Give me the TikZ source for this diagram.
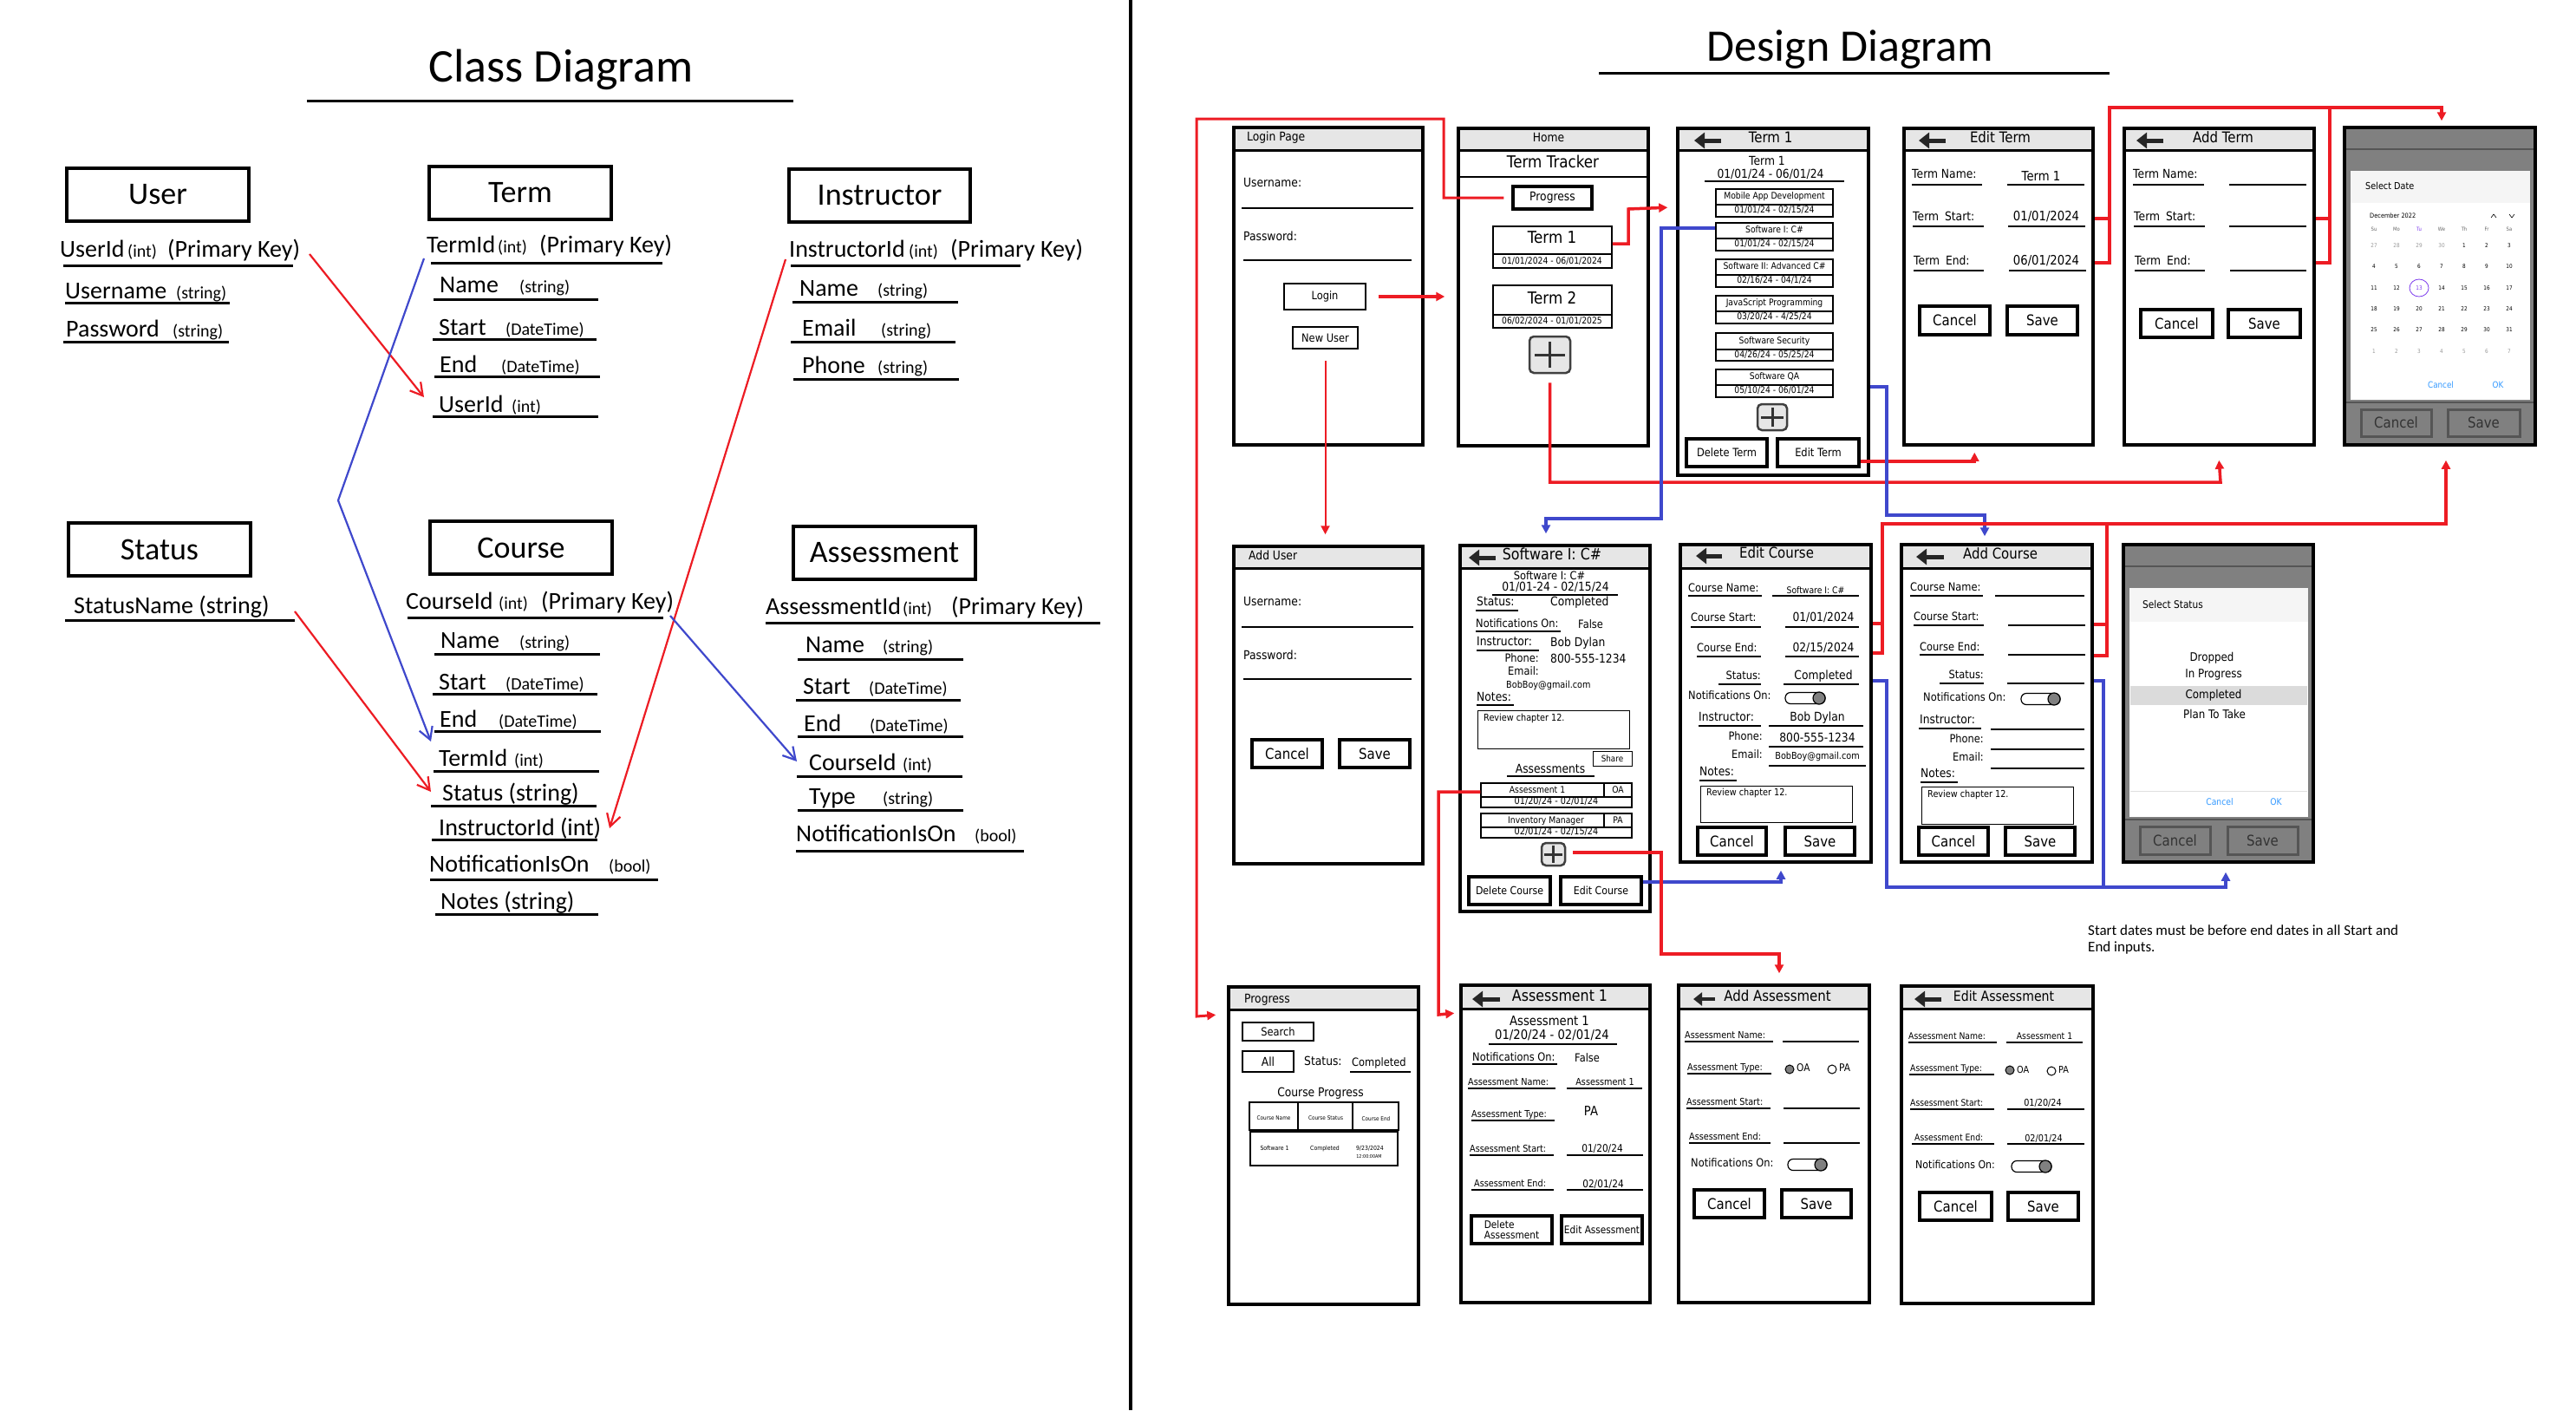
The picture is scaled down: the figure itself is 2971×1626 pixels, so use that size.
\documentclass[tikz,border=0pt]{standalone}
\usepackage{fontspec}
\setmainfont{DejaVu Sans}
\newfontfamily\dsf[FakeStretch=0.88]{DejaVu Sans}
\newfontfamily\clf{Carlito}
\usetikzlibrary{arrows.meta,fit,calc}
\definecolor{rr}{RGB}{237,28,36}
\definecolor{bb}{RGB}{63,72,204}
\definecolor{hg}{RGB}{230,230,230}
\definecolor{sg}{RGB}{128,128,128}
\definecolor{dg}{RGB}{85,85,85}
\definecolor{pu}{RGB}{124,58,237}
\definecolor{lb}{RGB}{51,153,255}
\newcounter{nn}
\tikzset{
 cl/.style={font=\clf\fontsize{#1}{#1}\selectfont, inner sep=0pt},
 ds/.style={font=\dsf\fontsize{#1}{#1}\selectfont, inner sep=0pt},
 tW/.style={anchor=mid west}, tC/.style={anchor=mid}, tE/.style={anchor=mid east}, tB/.style={anchor=base west},
 ulw/.style={line width=1.2pt},
 rc/.style={draw=rr, line width=3.5pt},
 bc/.style={draw=bb, line width=3.5pt},
 tip/.style={-{Triangle[length=10pt,width=10pt]}},
 ctip/.style={-{Straight Barb[length=14pt,width=16pt]}},
 cbtn/.style={ds=17, line width=3.5pt},
 gbtn/.style={ds=17, line width=3pt, fill=sg, draw=dg, text=black!80},
}
\newcommand\Txt[4][]{\stepcounter{nn}\node[#1] (n\arabic{nn}) at (#2,#3) {#4};}
\newcommand\Ul[3]{\draw[ulw] (#1,#3) -- (#2,#3);}
\newcommand\Btn[7][]{\node[fit={(#3,#4) (#5,#6)}, inner sep=0pt, draw, #1] (#2) {};\stepcounter{nn}\node[#1, draw=none, fill=none, anchor=center] (n\arabic{nn}) at (#2.center) {#7};}
\newcommand\Scr[6]{\fill[hg] (#2,#3) rectangle (#4,#6);\draw[line width=3pt] (#2,#6) -- (#4,#6);\node[fit={(#2,#3) (#4,#5)}, inner sep=0pt, draw, line width=3.5pt] (#1) {};}
\newcommand\Gscr[5]{\node[fit={(#2,#3) (#4,#5)}, inner sep=0pt, draw, line width=3.5pt, fill=sg] (#1) {};}
\newcommand\Bk[3]{\draw[line width=5pt, black!85, -{Triangle[length=12pt,width=18pt]}] (#2,#3) -- (#1,#3);}
\newcommand\PlusB[6]{\node[fit={(#2,#3) (#4,#5)}, inner sep=0pt, draw=black!75, fill=hg, line width=2.5pt, rounded corners=5pt] (#1) {};
 \draw[line width=3pt, black!80] ([xshift=#6]#1.west) -- ([xshift=-#6]#1.east) ([yshift=-#6]#1.north) -- ([yshift=#6]#1.south);}
\newcommand\Tog[3]{\draw[line width=1.2pt, fill=white, rounded corners=6pt] (#1,#3-6.5) rectangle (#2,#3+6.5); \draw[line width=1.2pt, fill=black!50] (#2-7,#3) circle[radius=7pt];}
\newcommand\CBox[8]{\node[fit={(#2,#3) (#4,#5)}, inner sep=0pt, draw, line width=2pt] (#1) {};\draw[line width=1.5pt] (#2,#6) -- (#4,#6);
 \stepcounter{nn}\node[ds=10.5,tC] (n\arabic{nn}) at ($(#2,#3)!0.5!(#4,#6)$) {#7};
 \stepcounter{nn}\node[ds=10.5,tC] (n\arabic{nn}) at ($(#2,#6)!0.5!(#4,#5)$) {#8};}
\newcommand\Attr[9]{\node[cl=28,tB] (#1) at (#2,#3) {#4};\stepcounter{nn}\node[cl=20,tB] (n\arabic{nn}) at (#5,#3) {#6};\draw[line width=3pt] (#7,#9) -- (#8,#9);}
\newcommand\AttrPK[9]{\node[cl=28,tB] (#1) at (#2,#3) {#4};\stepcounter{nn}\node[cl=20,tB] (n\arabic{nn}) at (#5,#3) {(int)};\node[cl=28,tB] (#1K) at (#6,#3) {(Primary Key)};\draw[line width=3pt] (#7,#9) -- (#8,#9);}
\begin{document}
\begin{tikzpicture}[x=1pt,y=-1pt]
\useasboundingbox (0,0) rectangle (2971,1626);
\fill[white] (0,0) rectangle (2971,1626);
\draw[line width=4pt] (1304,0) -- (1304,1626);
% ================= CLASS DIAGRAM =================
\node[cl=54,anchor=base] (ctitle) at (647,94) {Class Diagram};
\draw[line width=3pt] (354,116) -- (915,116);
\Btn[cl=36,line width=3.5pt]{cUser}{77}{194}{287}{255}{User}
\Btn[cl=36,line width=3.5pt]{cTerm}{495}{192}{705}{253}{Term}
\Btn[cl=36,line width=3.5pt]{cInstr}{910}{195}{1119}{256}{Instructor}
\Btn[cl=36,line width=3.5pt]{cStatus}{79}{603}{289}{664}{Status}
\Btn[cl=36,line width=3.5pt]{cCourse}{496}{601}{706}{662}{Course}
\Btn[cl=36,line width=3.5pt]{cAssess}{915}{607}{1125}{668}{Assessment}
% User
\AttrPK{uId}{69}{296}{UserId}{147}{193}{73}{338}{306}
\Attr{uUn}{75}{344}{Username}{203}{(string)}{75}{265}{349}
\Attr{uPw}{76}{388}{Password}{199}{(string)}{73}{264}{394}
% Term
\AttrPK{tId}{492}{291}{TermId}{574}{622}{497}{764}{303}
\Attr{tNm}{507}{337}{Name}{599}{(string)}{500}{690}{345}
\Attr{tSt}{506}{386}{Start}{583}{(DateTime)}{499}{688}{391}
\Attr{tEn}{507}{429}{End}{578}{(DateTime)}{501}{692}{434}
\Attr{tUid}{506}{475}{UserId}{590}{(int)}{499}{690}{480}
% Instructor
\AttrPK{iId}{910}{296}{InstructorId}{1048}{1096}{912}{1177}{306}
\Attr{iNm}{922}{341}{Name}{1012}{(string)}{914}{1105}{348}
\Attr{iEm}{925}{387}{Email}{1016}{(string)}{912}{1102}{394}
\Attr{iPh}{925}{430}{Phone}{1012}{(string)}{915}{1106}{437}
% Status
\node[cl=28,tB] (sName) at (85,707) {StatusName (string)};
\draw[line width=3pt] (75,715) -- (340,715);
% Course
\AttrPK{cId}{468}{702}{CourseId}{575}{624}{470}{765}{712}
\Attr{cNm}{508}{747}{Name}{599}{(string)}{501}{692}{754}
\Attr{cSt}{506}{795}{Start}{583}{(DateTime)}{499}{689}{800}
\Attr{cEn}{507}{838}{End}{575}{(DateTime)}{501}{693}{843}
\Attr{cTid}{506}{883}{TermId}{593}{(int)}{500}{691}{889}
\node[cl=28,tB] (cStat) at (510,923) {Status (string)};
\draw[line width=3pt] (497,929) -- (688,929);
\node[cl=28,tB] (cIid) at (506,963) {InstructorId (int)};
\draw[line width=3pt] (498,968) -- (689,968);
\Attr{cNo}{495}{1005}{NotificationIsOn}{702}{(bool)}{496}{759}{1014}
\node[cl=28,tB] (cNt) at (508,1048) {Notes (string)};
\draw[line width=3pt] (502,1054) -- (690,1054);
% Assessment
\AttrPK{aId}{883}{708}{AssessmentId}{1041}{1097}{883}{1269}{718}
\Attr{aNm}{929}{752}{Name}{1018}{(string)}{920}{1111}{760}
\Attr{aSt}{926}{800}{Start}{1002}{(DateTime)}{918}{1108}{807}
\Attr{aEn}{927}{843}{End}{1003}{(DateTime)}{920}{1111}{849}
\Attr{aCid}{933}{888}{CourseId}{1041}{(int)}{919}{1110}{895}
\Attr{aTy}{933}{927}{Type}{1018}{(string)}{920}{1111}{934}
\Attr{aNo}{918}{970}{NotificationIsOn}{1124}{(bool)}{918}{1181}{981}
% class connectors
\draw[rr, line width=2.2pt, ctip] ($(uId.base west)+(288,-3)$) -- ($(tUid.base west)+(-17,-17)$);
\draw[bb, line width=2.2pt, ctip] ($(tId.base west)+(-3,7)$) -- (390,577) -- ($(cTid.base west)+(-9,-28)$);
\draw[rr, line width=2.2pt, ctip] ($(iId.base west)+(-4,3)$) -- ($(cIid.base west)+(197,-8)$);
\draw[rr, line width=2.2pt, ctip] ($(sName.base west)+(255,-2)$) -- ($(cStat.base west)+(-13,-10)$);
\draw[bb, line width=2.2pt, ctip] ($(cId.base west)+(305,8)$) -- ($(aCid.base west)+(-14,-10)$);
% ================= DESIGN DIAGRAM =================
\node[cl=52,anchor=base] (dtitle) at (2134,70) {Design Diagram};
\draw[line width=3pt] (1844,84) -- (2433,84);
% --- Login
\Scr{login}{1423}{147}{1641}{513}{173}
\Txt[ds=14,tW]{1438}{160}{Login Page}
\Txt[ds=14,tW]{1434}{213}{Username:}
\Ul{1432}{1630}{240}
\Txt[ds=14,tW]{1434}{275}{Password:}
\Ul{1434}{1628}{300}
\Btn[ds=13,line width=1.5pt]{loginBtn}{1481}{327}{1575}{357}{Login}
\Btn[ds=13,line width=1.5pt]{newUserBtn}{1491}{377}{1566}{402}{New User}
% --- Home
\Scr{home}{1682}{148}{1901}{514}{173}
\Txt[ds=14,tC]{1786}{161}{Home}
\Txt[ds=19,tC]{1791}{191}{Term Tracker}
\draw[line width=1.5pt] (1682,204) -- (1901,204);
\Btn[ds=14,line width=3.5pt]{progBtn}{1745}{215}{1836}{241}{Progress}
\node[fit={(1722,261) (1859,309)}, inner sep=0pt, draw, line width=1.5pt] (hT1) {};
\draw[line width=1.5pt] (1722,293) -- (1859,293);
\Txt[ds=19,tC]{1790}{278}{Term 1}
\Txt[ds=10.5,tC]{1790}{302}{01/01/2024 - 06/01/2024}
\node[fit={(1722,329) (1859,378)}, inner sep=0pt, draw, line width=1.5pt] (hT2) {};
\draw[line width=1.5pt] (1722,363) -- (1859,363);
\Txt[ds=19,tC]{1790}{348}{Term 2}
\Txt[ds=10.5,tC]{1790}{371}{06/02/2024 - 01/01/2025}
\PlusB{homePlus}{1764}{388}{1811}{430}{7pt}
% --- Term 1
\Scr{term1}{1935}{148}{2155}{548}{173}
\Bk{1954}{1985}{162}
\Txt[ds=17,tC]{2042}{162}{Term 1}
\Txt[ds=14,tC]{2038}{188}{Term 1}
\Txt[ds=14,tC]{2042}{203}{01/01/24 - 06/01/24}
\Ul{1966}{2127}{209}
\CBox{cb1}{1979}{218}{2114}{250}{236}{Mobile App Development}{01/01/24 - 02/15/24}
\CBox{cb2}{1979}{257}{2114}{289}{275}{Software I: C\#}{01/01/24 - 02/15/24}
\CBox{cb3}{1979}{299}{2114}{331}{317}{Software II: Advanced C\#}{02/16/24 - 04/1/24}
\CBox{cb4}{1979}{341}{2114}{373}{359}{JavaScript Programming}{03/20/24 - 4/25/24}
\CBox{cb5}{1979}{384}{2114}{416}{403}{Software Security}{04/26/24 - 05/25/24}
\CBox{cb6}{1979}{426}{2114}{458}{444}{Software QA}{05/10/24 - 06/01/24}
\PlusB{t1Plus}{2027}{466}{2061}{496}{5pt}
\Btn[ds=13,line width=3.5pt]{dtBtn}{1945}{506}{2038}{538}{Delete Term}
\Btn[ds=13,line width=3.5pt]{etBtn}{2050}{506}{2144}{538}{Edit Term}
% --- Edit Term
\Scr{editterm}{2196}{148}{2414}{513}{173}
\Bk{2213}{2244}{162}
\Txt[ds=17,tC]{2307}{162}{Edit Term}
\Txt[ds=14,tW]{2205}{203}{Term Name:}
\Ul{2205}{2286}{213}
\Txt[ds=14,tW]{2206}{252}{Term\enspace Start:}
\Ul{2206}{2288}{261}
\Txt[ds=14,tW]{2207}{303}{Term\enspace End:}
\Ul{2207}{2288}{312}
\Txt[ds=15,tC]{2354}{206}{Term 1}
\Ul{2315}{2404}{213}
\Txt[ds=15,tC]{2360}{252}{01/01/2024}
\Ul{2316}{2405}{261}
\Txt[ds=15,tC]{2360}{303}{06/01/2024}
\Ul{2317}{2406}{312}
\Btn[cbtn]{etCancel}{2214}{353}{2295}{386}{Cancel}
\Btn[cbtn]{etSave}{2315}{353}{2396}{386}{Save}
% --- Add Term
\Scr{addterm}{2450}{148}{2669}{513}{173}
\Bk{2464}{2495}{162}
\Txt[ds=17,tC]{2564}{162}{Add Term}
\Txt[ds=14,tW]{2460}{203}{Term Name:}
\Ul{2460}{2542}{213}
\Txt[ds=14,tW]{2461}{252}{Term\enspace Start:}
\Ul{2461}{2543}{261}
\Txt[ds=14,tW]{2462}{303}{Term\enspace End:}
\Ul{2462}{2543}{312}
\Ul{2571}{2660}{213}
\Ul{2571}{2660}{261}
\Ul{2572}{2660}{312}
\Btn[cbtn]{atCancel}{2469}{357}{2552}{389}{Cancel}
\Btn[cbtn]{atSave}{2570}{357}{2653}{389}{Save}
% --- Date picker
\Gscr{datepick}{2704}{147}{2924}{513}
\draw[dg,line width=2.5pt] (2706,172) -- (2922,172);
\fill[white] (2711,197) rectangle (2918,461);
\fill[black!4] (2711,197) rectangle (2918,234);
\draw[dg,line width=2.5pt] (2706,464) -- (2922,464);
\Txt[ds=11,tW]{2728}{216}{Select Date}
\Txt[ds=7.5,tW]{2733}{249}{December 2022}
\draw[line width=0.6pt] (2873,251) -- (2876,247) -- (2879,251) (2894,247) -- (2897,251) -- (2900,247);
\foreach \d [count=\i from 0] in {Su,Mo} \node[ds=6,tC,text=black!60] (dh\i) at (2738+26*\i,264) {\d};
\node[ds=6,tC,text=pu] (dh2) at (2790,264) {Tu};
\foreach \d [count=\i from 3] in {We,Th,Fr,Sa} \node[ds=6,tC,text=black!60] (dh\i) at (2738+26*\i,264) {\d};
\foreach \v [count=\i from 0] in {27,28,29,30} \node[ds=6.5,tC,text=black!40] (ca\i) at (2738+26*\i,283) {\v};
\foreach \v [count=\i from 4] in {1,2,3} \node[ds=6.5,tC] (cb\i x) at (2738+26*\i,283) {\v};
\foreach \r/\yy in {0/307,1/332,2/356,3/380} {
  \foreach \i in {0,...,6} {
    \pgfmathtruncatemacro\v{4+7*\r+\i}
    \node[ds=6.5,tC] (cd\r\i) at (2738+26*\i,\yy) {\ifnum\v=13 \color{pu}\fi\v};
  }
}
\foreach \v [count=\i from 0] in {1,2,3,4,5,6,7} \node[ds=6.5,tC,text=black!40] (ce\i) at (2738+26*\i,405) {\v};
\draw[pu, line width=0.8pt] (2790,332) ellipse [x radius=11pt, y radius=10pt];
\Txt[ds=10,tC,text=lb]{2815}{445}{Cancel}
\Txt[ds=10,tC,text=lb]{2881}{445}{OK}
\Btn[gbtn]{dpCancel}{2723}{472}{2804}{503}{Cancel}
\Btn[gbtn]{dpSave}{2823}{472}{2906}{503}{Save}
% --- Add User
\Scr{addUser}{1423}{630}{1641}{996}{655}
\Txt[ds=14,tW]{1440}{643}{Add User}
\Txt[ds=14,tW]{1434}{696}{Username:}
\Ul{1432}{1630}{723}
\Txt[ds=14,tW]{1434}{758}{Password:}
\Ul{1434}{1628}{783}
\Btn[cbtn]{auCancel}{1444}{853}{1525}{885}{Cancel}
\Btn[cbtn]{auSave}{1545}{853}{1626}{885}{Save}
% --- Course (Software I: C#)
\Scr{course}{1684}{629}{1903}{1051}{655}
\Bk{1694}{1725}{643}
\Txt[ds=18,tC]{1790}{643}{Software I: C\#}
\Txt[ds=13,tC]{1787}{666}{Software I: C\#}
\Txt[ds=14,tC]{1794}{679}{01/01-24 - 02/15/24}
\Ul{1721}{1866}{686}
\Txt[ds=14,tW]{1703}{696}{Status:}
\Ul{1702}{1751}{704}
\Txt[ds=14,tW]{1788}{696}{Completed}
\Txt[ds=13,tW]{1702}{721}{Notifications On:}
\Ul{1702}{1800}{728}
\Txt[ds=13,tW]{1820}{722}{False}
\Txt[ds=14,tW]{1703}{742}{Instructor:}
\Ul{1703}{1775}{750}
\Txt[ds=14,tW]{1788}{743}{Bob Dylan}
\Txt[ds=13,tE]{1775}{761}{Phone:}
\Txt[ds=14,tW]{1788}{762}{800-555-1234}
\Txt[ds=13,tE]{1775}{776}{Email:}
\Txt[ds=11,tW]{1737}{791}{BobBoy@gmail.com}
\Txt[ds=14,tW]{1703}{806}{Notes:}
\Ul{1703}{1746}{813}
\node[fit={(1704,819) (1879,863)}, inner sep=0pt, draw, line width=1pt] (cNotes) {};
\Txt[ds=11,tW]{1711}{829}{Review chapter 12.}
\Btn[ds=10,line width=1pt]{shareBtn}{1837}{866}{1882}{883}{Share}
\Txt[ds=14,tC]{1788}{889}{Assessments}
\Ul{1738}{1839}{895}
\node[fit={(1708,903) (1882,931)}, inner sep=0pt, draw, line width=1.5pt] (ab1) {};
\draw[line width=1.2pt] (1708,919) -- (1882,919) (1850,903) -- (1850,919);
\Txt[ds=10.5,tC]{1773}{912}{Assessment 1}
\Txt[ds=10.5,tC]{1866}{912}{OA}
\Txt[ds=11,tC]{1795}{925}{01/20/24 - 02/01/24}
\node[fit={(1708,938) (1882,966)}, inner sep=0pt, draw, line width=1.5pt] (ab2) {};
\draw[line width=1.2pt] (1708,954) -- (1882,954) (1850,938) -- (1850,954);
\Txt[ds=10.5,tC]{1783}{947}{Inventory Manager}
\Txt[ds=10.5,tC]{1866}{947}{PA}
\Txt[ds=11,tC]{1795}{960}{02/01/24 - 02/15/24}
\PlusB{cPlus}{1778}{972}{1805}{998}{4pt}
\Btn[ds=12.5,line width=3.5pt]{dcBtn}{1694}{1011}{1788}{1043}{Delete Course}
\Btn[ds=12.5,line width=3.5pt]{ecBtn}{1800}{1011}{1893}{1043}{Edit Course}
% --- Edit Course
\Scr{editcourse}{1938}{628}{2158}{994}{655}
\Bk{1956}{1986}{641}
\Txt[ds=17,tC]{2049}{641}{Edit Course}
\Txt[ds=13,tW]{1947}{680}{Course Name:}
\Ul{1947}{2032}{687}
\Txt[ds=10.5,tC]{2094}{682}{Software I: C\#}
\Ul{2044}{2144}{687}
\Txt[ds=13,tW]{1950}{714}{Course Start:}
\Ul{1950}{2031}{723}
\Txt[ds=14,tC]{2103}{714}{01/01/2024}
\Ul{2059}{2144}{723}
\Txt[ds=13,tW]{1957}{749}{Course End:}
\Ul{1957}{2031}{757}
\Txt[ds=14,tC]{2103}{749}{02/15/2024}
\Ul{2059}{2144}{757}
\Txt[ds=13,tE]{2031}{781}{Status:}
\Ul{1982}{2031}{789}
\Txt[ds=14,tC]{2103}{781}{Completed}
\Ul{2057}{2144}{789}
\Txt[ds=13,tW]{1947}{804}{Notifications On:}
\Tog{2059}{2105}{805}
\Txt[ds=14,tW]{1959}{829}{Instructor:}
\Ul{1959}{2031}{837}
\Txt[ds=14,tC]{2096}{829}{Bob Dylan}
\Ul{2040}{2149}{837}
\Txt[ds=13,tE]{2033}{851}{Phone:}
\Txt[ds=14,tC]{2096}{853}{800-555-1234}
\Ul{2040}{2149}{861}
\Txt[ds=13,tE]{2033}{872}{Email:}
\Txt[ds=11,tC]{2096}{873}{BobBoy@gmail.com}
\Ul{2040}{2152}{883}
\Txt[ds=14,tW]{1960}{892}{Notes:}
\Ul{1960}{2003}{900}
\node[fit={(1961,906) (2136,948)}, inner sep=0pt, draw, line width=1pt] (ecNotes) {};
\Txt[ds=11,tW]{1968}{915}{Review chapter 12.}
\Btn[cbtn]{ecCancel}{1958}{954}{2037}{986}{Cancel}
\Btn[cbtn]{ecSave}{2059}{954}{2139}{986}{Save}
% --- Add Course
\Scr{addcourse}{2193}{628}{2413}{994}{655}
\Bk{2210}{2242}{642}
\Txt[ds=17,tC]{2307}{642}{Add Course}
\Txt[ds=13,tW]{2203}{679}{Course Name:}
\Ul{2203}{2287}{687}
\Ul{2301}{2404}{687}
\Txt[ds=13,tW]{2207}{713}{Course Start:}
\Ul{2207}{2288}{721}
\Ul{2316}{2405}{721}
\Txt[ds=13,tW]{2214}{748}{Course End:}
\Ul{2214}{2288}{755}
\Ul{2316}{2405}{755}
\Txt[ds=13,tE]{2288}{780}{Status:}
\Ul{2237}{2288}{788}
\Ul{2315}{2404}{788}
\Txt[ds=13,tW]{2218}{806}{Notifications On:}
\Tog{2331}{2376}{806}
\Txt[ds=14,tW]{2214}{832}{Instructor:}
\Ul{2213}{2285}{840}
\Ul{2296}{2404}{841}
\Txt[ds=13,tE]{2288}{854}{Phone:}
\Ul{2296}{2404}{864}
\Txt[ds=13,tE]{2288}{875}{Email:}
\Ul{2296}{2404}{886}
\Txt[ds=14,tW]{2215}{894}{Notes:}
\Ul{2215}{2258}{902}
\node[fit={(2216,907) (2391,950)}, inner sep=0pt, draw, line width=1pt] (acNotes) {};
\Txt[ds=11,tW]{2223}{917}{Review chapter 12.}
\Btn[cbtn]{acCancel}{2213}{954}{2293}{986}{Cancel}
\Btn[cbtn]{acSave}{2313}{954}{2393}{986}{Save}
% --- Status picker
\Gscr{statuspick}{2449}{628}{2668}{994}
\draw[dg,line width=2.5pt] (2451,653) -- (2666,653);
\fill[white] (2456,678) rectangle (2662,942);
\fill[black!4] (2456,678) rectangle (2662,717);
\fill[black!14] (2457,791) rectangle (2661,813);
\draw[black!12,line width=1pt] (2457,912) -- (2661,912);
\draw[dg,line width=2.5pt] (2451,945) -- (2666,945);
\Txt[ds=12,tW]{2471}{699}{Select Status}
\Txt[ds=13.5,tC]{2551}{760}{Dropped}
\Txt[ds=13.5,tC]{2553}{779}{In Progress}
\Txt[ds=13.5,tC]{2553}{803}{Completed}
\Txt[ds=13.5,tC]{2554}{826}{Plan To Take}
\Txt[ds=10.5,tC,text=lb]{2560}{926}{Cancel}
\Txt[ds=10.5,tC,text=lb]{2625}{926}{OK}
\Btn[gbtn]{spCancel}{2468}{953}{2549}{985}{Cancel}
\Btn[gbtn]{spSave}{2569}{953}{2650}{985}{Save}
% --- Progress
\Scr{progress}{1417}{1138}{1636}{1504}{1164}
\Txt[ds=14,tW]{1435}{1154}{Progress}
\Btn[ds=13,line width=1.5pt]{searchBtn}{1433}{1179}{1515}{1200}{Search}
\Btn[ds=14,line width=1.5pt]{allBtn}{1433}{1212}{1492}{1236}{All}
\Txt[ds=14,tW]{1504}{1226}{Status:}
\Txt[ds=13,tW]{1559}{1227}{Completed}
\Ul{1557}{1627}{1236}
\Txt[ds=14,tC]{1523}{1262}{Course Progress}
\node[fit={(1441,1271) (1613,1303)}, inner sep=0pt, draw, line width=2pt] (ptH) {};
\draw[line width=1.5pt] (1497,1271) -- (1497,1303) (1560,1271) -- (1560,1303);
\Txt[ds=6.5,tC]{1469}{1289}{Course Name}
\Txt[ds=6.5,tC]{1529}{1289}{Course Status}
\Txt[ds=6.5,tC]{1587}{1290}{Course End}
\node[fit={(1442,1305) (1612,1344)}, inner sep=0pt, draw, line width=1.5pt] (ptB) {};
\Txt[ds=7,tC]{1470}{1324}{Software 1}
\Txt[ds=7,tC]{1528}{1324}{Completed}
\Txt[ds=7,tC]{1580}{1324}{9/23/2024}
\Txt[ds=5.5,tC]{1579}{1333}{12:00:00AM}
% --- Assessment 1
\Scr{assess}{1685}{1136}{1903}{1502}{1163}
\Bk{1698}{1730}{1152}
\Txt[ds=18,tC]{1799}{1152}{Assessment 1}
\Txt[ds=15,tC]{1787}{1180}{Assessment 1}
\Txt[ds=15,tC]{1790}{1196}{01/20/24 - 02/01/24}
\Ul{1717}{1865}{1204}
\Txt[ds=13,tW]{1698}{1221}{Notifications On:}
\Ul{1698}{1796}{1227}
\Txt[ds=13,tW]{1816}{1222}{False}
\Txt[ds=11,tW]{1693}{1249}{Assessment Name:}
\Ul{1693}{1794}{1255}
\Txt[ds=11,tC]{1851}{1249}{Assessment 1}
\Ul{1807}{1894}{1255}
\Txt[ds=11,tW]{1697}{1286}{Assessment Type:}
\Ul{1697}{1793}{1292}
\Txt[ds=15,tC]{1835}{1284}{PA}
\Txt[ds=11,tW]{1695}{1326}{Assessment Start:}
\Ul{1695}{1792}{1332}
\Txt[ds=12,tC]{1848}{1326}{01/20/24}
\Ul{1807}{1895}{1332}
\Txt[ds=11,tW]{1700}{1366}{Assessment End:}
\Ul{1697}{1792}{1372}
\Txt[ds=12,tC]{1849}{1367}{02/01/24}
\Ul{1807}{1895}{1372}
\Btn[ds=12,line width=3.5pt,align=left]{daBtn}{1697}{1402}{1790}{1434}{Delete\\Assessment}
\Btn[ds=12,line width=3.5pt]{eaBtn}{1801}{1402}{1894}{1434}{Edit Assessment}
% --- Add Assessment
\Scr{addassess}{1936}{1136}{2156}{1502}{1163}
\draw[line width=4pt, black!85, -{Triangle[length=10pt,width=15pt]}] (1978,1152) -- (1953,1152);
\Txt[ds=17,tC]{2050}{1152}{Add Assessment}
\Txt[ds=11,tW]{1943}{1195}{Assessment Name:}
\Ul{1943}{2045}{1201}
\Ul{2056}{2144}{1201}
\Txt[ds=11,tW]{1946}{1232}{Assessment Type:}
\Ul{1946}{2043}{1238}
\draw[line width=1pt, fill=black!50] (2064,1233) circle[radius=5pt];
\Txt[ds=12,tW]{2072}{1233}{OA}
\draw[line width=1pt] (2113,1233) circle[radius=5pt];
\Txt[ds=12,tW]{2121}{1233}{PA}
\Txt[ds=11,tW]{1945}{1272}{Assessment Start:}
\Ul{1945}{2042}{1278}
\Ul{2057}{2145}{1278}
\Txt[ds=11,tW]{1948}{1312}{Assessment End:}
\Ul{1948}{2042}{1318}
\Ul{2057}{2145}{1318}
\Txt[ds=13,tW]{1950}{1343}{Notifications On:}
\Tog{2062}{2107}{1343}
\Btn[cbtn]{aaCancel}{1954}{1372}{2035}{1404}{Cancel}
\Btn[cbtn]{aaSave}{2055}{1372}{2135}{1404}{Save}
% --- Edit Assessment
\Scr{editassess}{2193}{1137}{2414}{1503}{1163}
\Bk{2208}{2239}{1152}
\Txt[ds=16,tC]{2311}{1152}{Edit Assessment}
\Txt[ds=10.5,tW]{2201}{1196}{Assessment Name:}
\Ul{2201}{2303}{1202}
\Txt[ds=10.5,tC]{2358}{1196}{Assessment 1}
\Ul{2314}{2402}{1202}
\Txt[ds=10.5,tW]{2203}{1233}{Assessment Type:}
\Ul{2202}{2300}{1239}
\draw[line width=1pt, fill=black!50] (2318,1234) circle[radius=5pt];
\Txt[ds=11,tW]{2326}{1235}{OA}
\draw[line width=1pt] (2366,1235) circle[radius=5pt];
\Txt[ds=11,tW]{2374}{1235}{PA}
\Txt[ds=10.5,tW]{2203}{1273}{Assessment Start:}
\Ul{2203}{2300}{1279}
\Txt[ds=11,tC]{2356}{1273}{01/20/24}
\Ul{2315}{2404}{1279}
\Txt[ds=10.5,tW]{2208}{1313}{Assessment End:}
\Ul{2205}{2300}{1319}
\Txt[ds=11,tC]{2357}{1314}{02/01/24}
\Ul{2315}{2404}{1319}
\Txt[ds=12.5,tW]{2209}{1345}{Notifications On:}
\Tog{2320}{2366}{1345}
\Btn[cbtn]{eaCancel}{2214}{1375}{2297}{1407}{Cancel}
\Btn[cbtn]{eaSave}{2316}{1375}{2397}{1407}{Save}
% --- note
\Txt[cl=17,tB]{2408}{1078}{Start dates must be before end dates in all Start and}
\Txt[cl=17,tB]{2408}{1097}{End inputs.}
% ================= DESIGN CONNECTORS =================
\draw[rc, line width=3pt, tip] ($(progBtn.west)+(-9,0)$) -| (1665,137) -| (1380,1172) -- ($(progress.north west)+(-13,34)$);
\draw[rc, tip] ($(loginBtn.east)+(14,0)$) -- ($(loginBtn.east -| home.west)+(-14,0)$);
\draw[rc, line width=2pt, tip] ($(newUserBtn.south)+(0,13)$) -- ($(newUserBtn.south |- addUser.north)+(0,-12)$);
\draw[rc, tip] ($(hT1.east)+(0,-4)$) -| (1878,241) -- ($(term1.north west)+(-10,93)$);
\draw[rc, tip] ($(homePlus.south)+(0,10)$) |- (2561,556) -- ($(addterm.south west)+(111,16)$);
\draw[rc, tip] ($(etBtn.east)+(0,10)$) -| ($(editterm.south west)+(83,7)$);
\draw[bc, tip] ($(cb2.west)+(0,-10)$) -| (1916,598) -| ($(course.north)+(-10.5,-12)$);
\draw[bc, tip] ($(term1.east)+(0,98)$) -| (2176,594) -| ($(addcourse.north)+(-14,-8)$);
\draw[rc] ($(editterm.east)+(0,-78.5)$) -- (2433,252);
\draw[rc, tip] ($(editterm.east)+(0,-27.5)$) -- (2433,303) -- (2433,124) -| ($(datepick.north)+(2,-6)$);
\draw[rc] ($(addterm.east)+(0,-78.5)$) -- (2687,252);
\draw[rc] ($(addterm.east)+(0,-27.5)$) -- (2687,303) -- (2687,124);
\draw[rc] ($(editcourse.east)+(0,-92)$) -- (2171,719);
\draw[rc, tip] ($(editcourse.east)+(0,-58)$) -- (2171,753) -- (2171,604) -| ($(datepick.south)+(7,16)$);
\draw[rc] ($(addcourse.east)+(0,-91)$) -- (2430,720);
\draw[rc] ($(addcourse.east)+(0,-55)$) -- (2430,756) -- (2430,604);
\draw[bc, tip] ($(editcourse.east)+(0,-26)$) -- (2176,785) -- (2176,1023) -| ($(statuspick.south)+(8.5,10)$);
\draw[bc] ($(addcourse.east)+(0,-26)$) -- (2426,785) -- (2426,1023);
\draw[bc, tip] ($(ecBtn.east)+(0,-10)$) -| ($(editcourse.south)+(6,8)$);
\draw[rc, tip] ($(ab1.west)+(0,-4)$) -| (1659,1170) -- ($(assess.north west)+(-6,34)$);
\draw[rc, tip] ($(cPlus.east)+(8,-2)$) -| (1916,1100) -| ($(addassess.north)+(6,-12)$);
\end{tikzpicture}
\end{document}
